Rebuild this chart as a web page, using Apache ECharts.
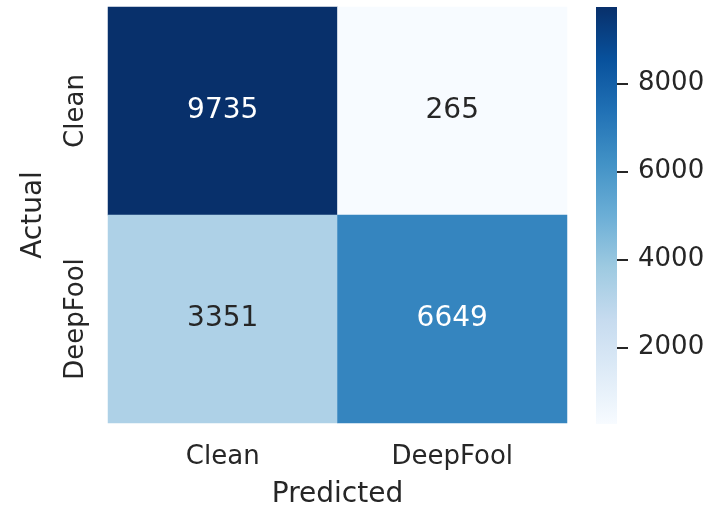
<!DOCTYPE html>
<html lang="en">
<head>
    <meta charset="UTF-8">
    <title>Confusion matrix</title>
    <script type="text/javascript" src="https://cdn.jsdelivr.net/npm/echarts@6/dist/echarts.min.js"></script>
    <style>
        html, body { margin: 0; padding: 0; background: #fff; }
        #chart { width: 719px; height: 524px; }
    </style>
</head>
<body>
<div id="chart"></div>
<script type="text/javascript">
    // data
    var predicted = ['Clean', 'DeepFool'];
    var actual = ['Clean', 'DeepFool'];
    // rows = actual, cols = predicted
    var counts = [
        [9735, 265],
        [3351, 6649]
    ];
    var colorbarTicks = [2000, 4000, 6000, 8000];

    // seaborn "Blues"
    var blues = ['#f7fbff', '#deebf7', '#c6dbef', '#9ecae1', '#6baed6',
                 '#4292c6', '#2171b5', '#08519c', '#08306b'];
    var textDark = '#262626';
    var font = 'DejaVu Sans';

    var flat = [].concat.apply([], counts);
    var vmin = Math.min.apply(null, flat);
    var vmax = Math.max.apply(null, flat);

    var cells = [];
    for (var r = 0; r < actual.length; r++) {
        for (var c = 0; c < predicted.length; c++) {
            var v = counts[r][c];
            var t = (v - vmin) / (vmax - vmin);
            cells.push({
                value: [c, r, v],
                label: { color: t > 0.5 ? '#ffffff' : textDark }
            });
        }
    }

    function barRender(params, api) {
        var top = api.coord([0, api.value(2)]);
        var bottom = api.coord([0, api.value(1)]);
        var w = api.size([1, 0])[0];
        var stops = blues.map(function (col, i) {
            return { offset: 1 - i / (blues.length - 1), color: col };
        });
        return {
            type: 'rect',
            shape: { x: top[0] - w / 2, y: top[1], width: w, height: bottom[1] - top[1] },
            style: { fill: new echarts.graphic.LinearGradient(0, 0, 0, 1, stops) },
            silent: true
        };
    }

    var myChart = echarts.init(document.getElementById('chart'), null, { renderer: 'canvas' });

    var option = {
        animation: false,
        textStyle: { fontFamily: font, color: textDark },
        grid: [
            { left: 108, top: 7, width: 459, height: 416 },
            { left: 596, top: 7, width: 21, height: 417 }
        ],
        xAxis: [{
            gridIndex: 0,
            type: 'category',
            data: predicted,
            axisLine: { show: false },
            axisTick: { show: false },
            splitLine: { show: false },
            axisLabel: { fontSize: 26, color: textDark, margin: 21, lineHeight: 26, fontFamily: font },
            name: 'Predicted',
            nameLocation: 'middle',
            nameGap: 58,
            nameTextStyle: { fontSize: 28, color: textDark, lineHeight: 28, fontFamily: font }
        }, {
            gridIndex: 1,
            type: 'category',
            data: ['bar'],
            show: false
        }],
        yAxis: [{
            gridIndex: 0,
            type: 'category',
            data: actual,
            inverse: true,
            axisLine: { show: false },
            axisTick: { show: false },
            splitLine: { show: false },
            axisLabel: { fontSize: 26, color: textDark, rotate: 90, margin: 19, lineHeight: 26, fontFamily: font },
            name: 'Actual',
            nameLocation: 'middle',
            nameGap: 60,
            nameRotate: 90,
            nameTextStyle: { fontSize: 28, color: textDark, lineHeight: 28, fontFamily: font }
        }, {
            gridIndex: 1,
            type: 'value',
            position: 'right',
            min: vmin,
            max: vmax,
            axisLine: { show: false },
            splitLine: { show: false },
            axisTick: {
                show: true,
                length: 11,
                customValues: colorbarTicks,
                lineStyle: { color: textDark, width: 2 }
            },
            axisLabel: {
                fontSize: 26,
                color: textDark,
                margin: 21,
                customValues: colorbarTicks,
                formatter: function (val) { return String(val); },
                fontFamily: font
            }
        }],
        visualMap: {
            show: false,
            type: 'continuous',
            seriesIndex: 0,
            min: vmin,
            max: vmax,
            inRange: { color: blues }
        },
        series: [{
            type: 'heatmap',
            xAxisIndex: 0,
            yAxisIndex: 0,
            data: cells,
            label: {
                show: true,
                fontSize: 28,
                fontFamily: font
            },
            itemStyle: { borderWidth: 0 },
            emphasis: { disabled: true }
        }, {
            type: 'custom',
            xAxisIndex: 1,
            yAxisIndex: 1,
            renderItem: barRender,
            encode: { x: 0, y: [1, 2] },
            data: [[0, vmin, vmax]]
        }]
    };

    myChart.setOption(option);
</script>
</body>
</html>
